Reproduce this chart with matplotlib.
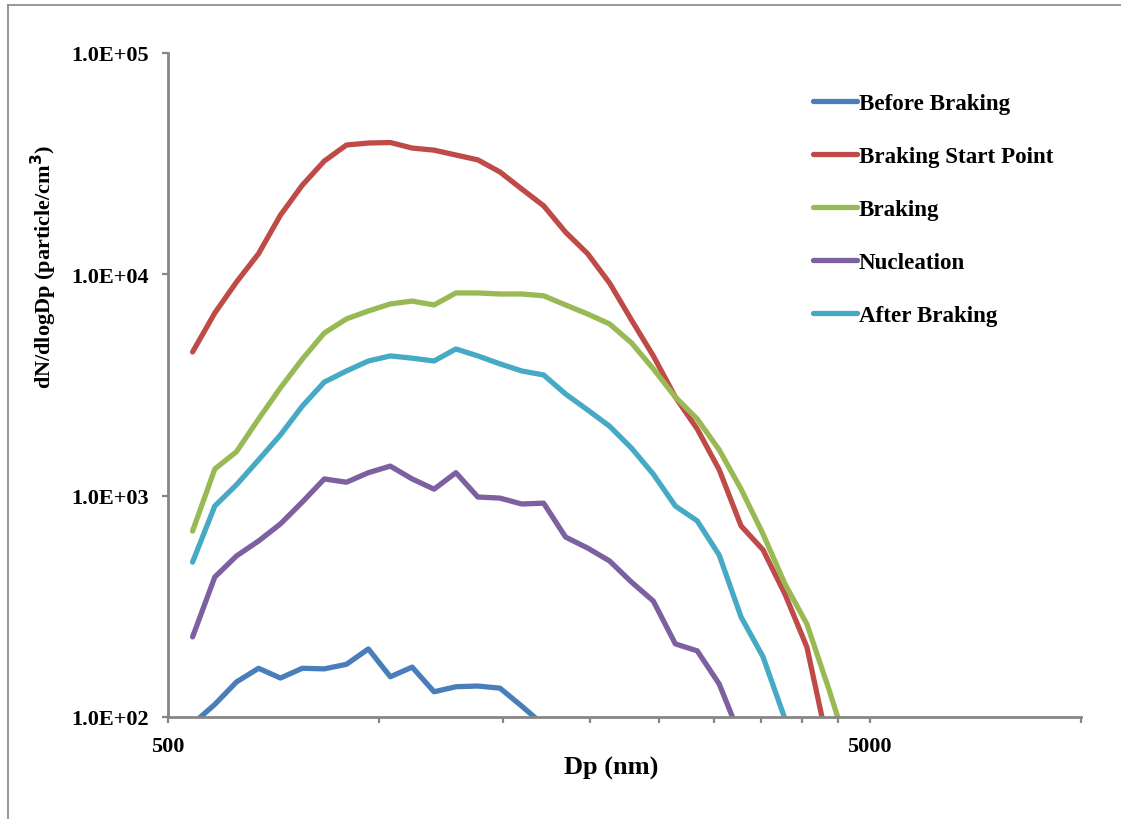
# PARTICLE SIZE DISTRIBUTION DURING BRAKING (APS CHANNELS)
# Uses: NumPy, Matplotlib

import numpy as np
import matplotlib.pyplot as plt
from matplotlib.lines import Line2D
from matplotlib.ticker import FixedLocator, NullLocator, NullFormatter


# STEP 1: DATA

# APS channel midpoints (nm)
dp_nm = [542, 583, 626, 673, 723, 777, 835, 898, 965, 1037, 1114, 1197,
         1286, 1382, 1486, 1596, 1715, 1843, 1981, 2129, 2288, 2458, 2642,
         2839, 3051, 3278, 3523, 3786, 4068, 4371, 4698]

before_braking = [93, 114, 144, 166, 150, 166, 165, 173, 203, 152, 168, 130,
                  137, 138, 135, 112, 92, 75]

braking_start = [4460, 6690, 9230, 12400, 18500, 25300, 32500, 38400, 39200,
                 39400, 37200, 36400, 34600, 32900, 29000, 24300, 20400,
                 15500, 12400, 9140, 6220, 4280, 2790, 2000, 1310, 730, 569,
                 359, 207, 72]

braking = [692, 1320, 1580, 2220, 3070, 4140, 5430, 6290, 6830, 7350, 7570,
           7270, 8240, 8240, 8150, 8150, 8000, 7270, 6620, 5970, 4900, 3740,
           2790, 2220, 1610, 1070, 671, 399, 263, 134, 65]

nucleation = [230, 429, 534, 624, 745, 936, 1190, 1150, 1270, 1360, 1190,
              1070, 1270, 986, 975, 917, 925, 650, 580, 507, 407, 334, 214,
              199, 141, 80]

after_braking = [501, 898, 1120, 1450, 1880, 2540, 3260, 3660, 4060, 4280,
                 4180, 4060, 4600, 4280, 3940, 3660, 3510, 2880, 2440, 2060,
                 1640, 1250, 898, 769, 539, 283, 187, 98, 50]

series_names = ["Before Braking", "Braking Start Point", "Braking",
                "Nucleation", "After Braking"]
series_values = [before_braking, braking_start, braking, nucleation,
                 after_braking]
series_colours = ["#4A7EBB", "#BE4B48", "#98B954", "#7D60A0", "#46AAC5"]

y_ticks = [1e2, 1e3, 1e4, 1e5]
y_tick_labels = ["1.0E+02", "1.0E+03", "1.0E+04", "1.0E+05"]
x_major = [500, 5000]
x_minor = [1000, 1500, 2000, 2500, 3000, 3500, 4000, 4500, 10000]


# STEP 2: FIGURE

plt.rcParams["font.family"] = ["Liberation Serif", "DejaVu Serif"]
plt.rcParams["font.weight"] = "bold"

fig = plt.figure(figsize=(11.21, 8.20), dpi=100)
ax = fig.add_axes([168 / 1121, 1 - 718 / 820, 913 / 1121, 664 / 820])

axis_grey = "#868686"


# STEP 3: PLOT SERIES

for name, values, colour in zip(series_names, series_values, series_colours):
    ax.plot(
        dp_nm[:len(values)],
        values,
        color=colour,
        linewidth=3.8,
        solid_capstyle="round",
        solid_joinstyle="round",
        label=name
    )


# STEP 4: AXES SETTINGS

ax.set_xscale("log")
ax.set_yscale("log")
ax.set_xlim(500, 10000)
ax.set_ylim(1e2, 1e5)

ax.xaxis.set_major_locator(FixedLocator(x_major))
ax.xaxis.set_minor_locator(FixedLocator(x_minor))
ax.xaxis.set_minor_formatter(NullFormatter())
ax.set_xticklabels([str(v) for v in x_major])

ax.yaxis.set_major_locator(FixedLocator(y_ticks))
ax.yaxis.set_minor_locator(NullLocator())
ax.set_yticklabels(y_tick_labels)

for side in ["top", "right"]:
    ax.spines[side].set_visible(False)
for side in ["left", "bottom"]:
    ax.spines[side].set_color(axis_grey)
    ax.spines[side].set_linewidth(2.0)

ax.tick_params(axis="both", which="both", direction="out", color=axis_grey,
               width=1.6, length=4)
ax.tick_params(axis="y", labelsize=16, pad=10)
ax.tick_params(axis="x", labelsize=16, pad=10)

ax.set_xlabel("Dp (nm)", fontsize=19, fontweight="bold")
ax.xaxis.set_label_coords(0.485, -0.058)
ax.set_ylabel("dN/dlogDp (particle/cm$^\\mathbf{3}$)", fontsize=16,
              fontweight="bold")
ax.yaxis.set_label_coords(-0.119, 0.68)


# STEP 5: LEGEND

ax.legend(
    loc="upper left",
    bbox_to_anchor=(813 / 1121, 1 - 94 / 820),
    bbox_transform=fig.transFigure,
    frameon=False,
    fontsize=16.6,
    handlelength=1.9,
    handletextpad=0.08,
    labelspacing=1.38,
    borderpad=0,
    borderaxespad=0
)


# STEP 6: CHART BORDER (only left and top edges visible)

fig.add_artist(Line2D([8 / 1121, 8 / 1121], [0, 1 - 6 / 820],
                      transform=fig.transFigure, color=axis_grey, lw=1.2))
fig.add_artist(Line2D([8 / 1121, 1], [1 - 6 / 820, 1 - 6 / 820],
                      transform=fig.transFigure, color=axis_grey, lw=1.2))

fig.savefig("out.png", dpi=100)
